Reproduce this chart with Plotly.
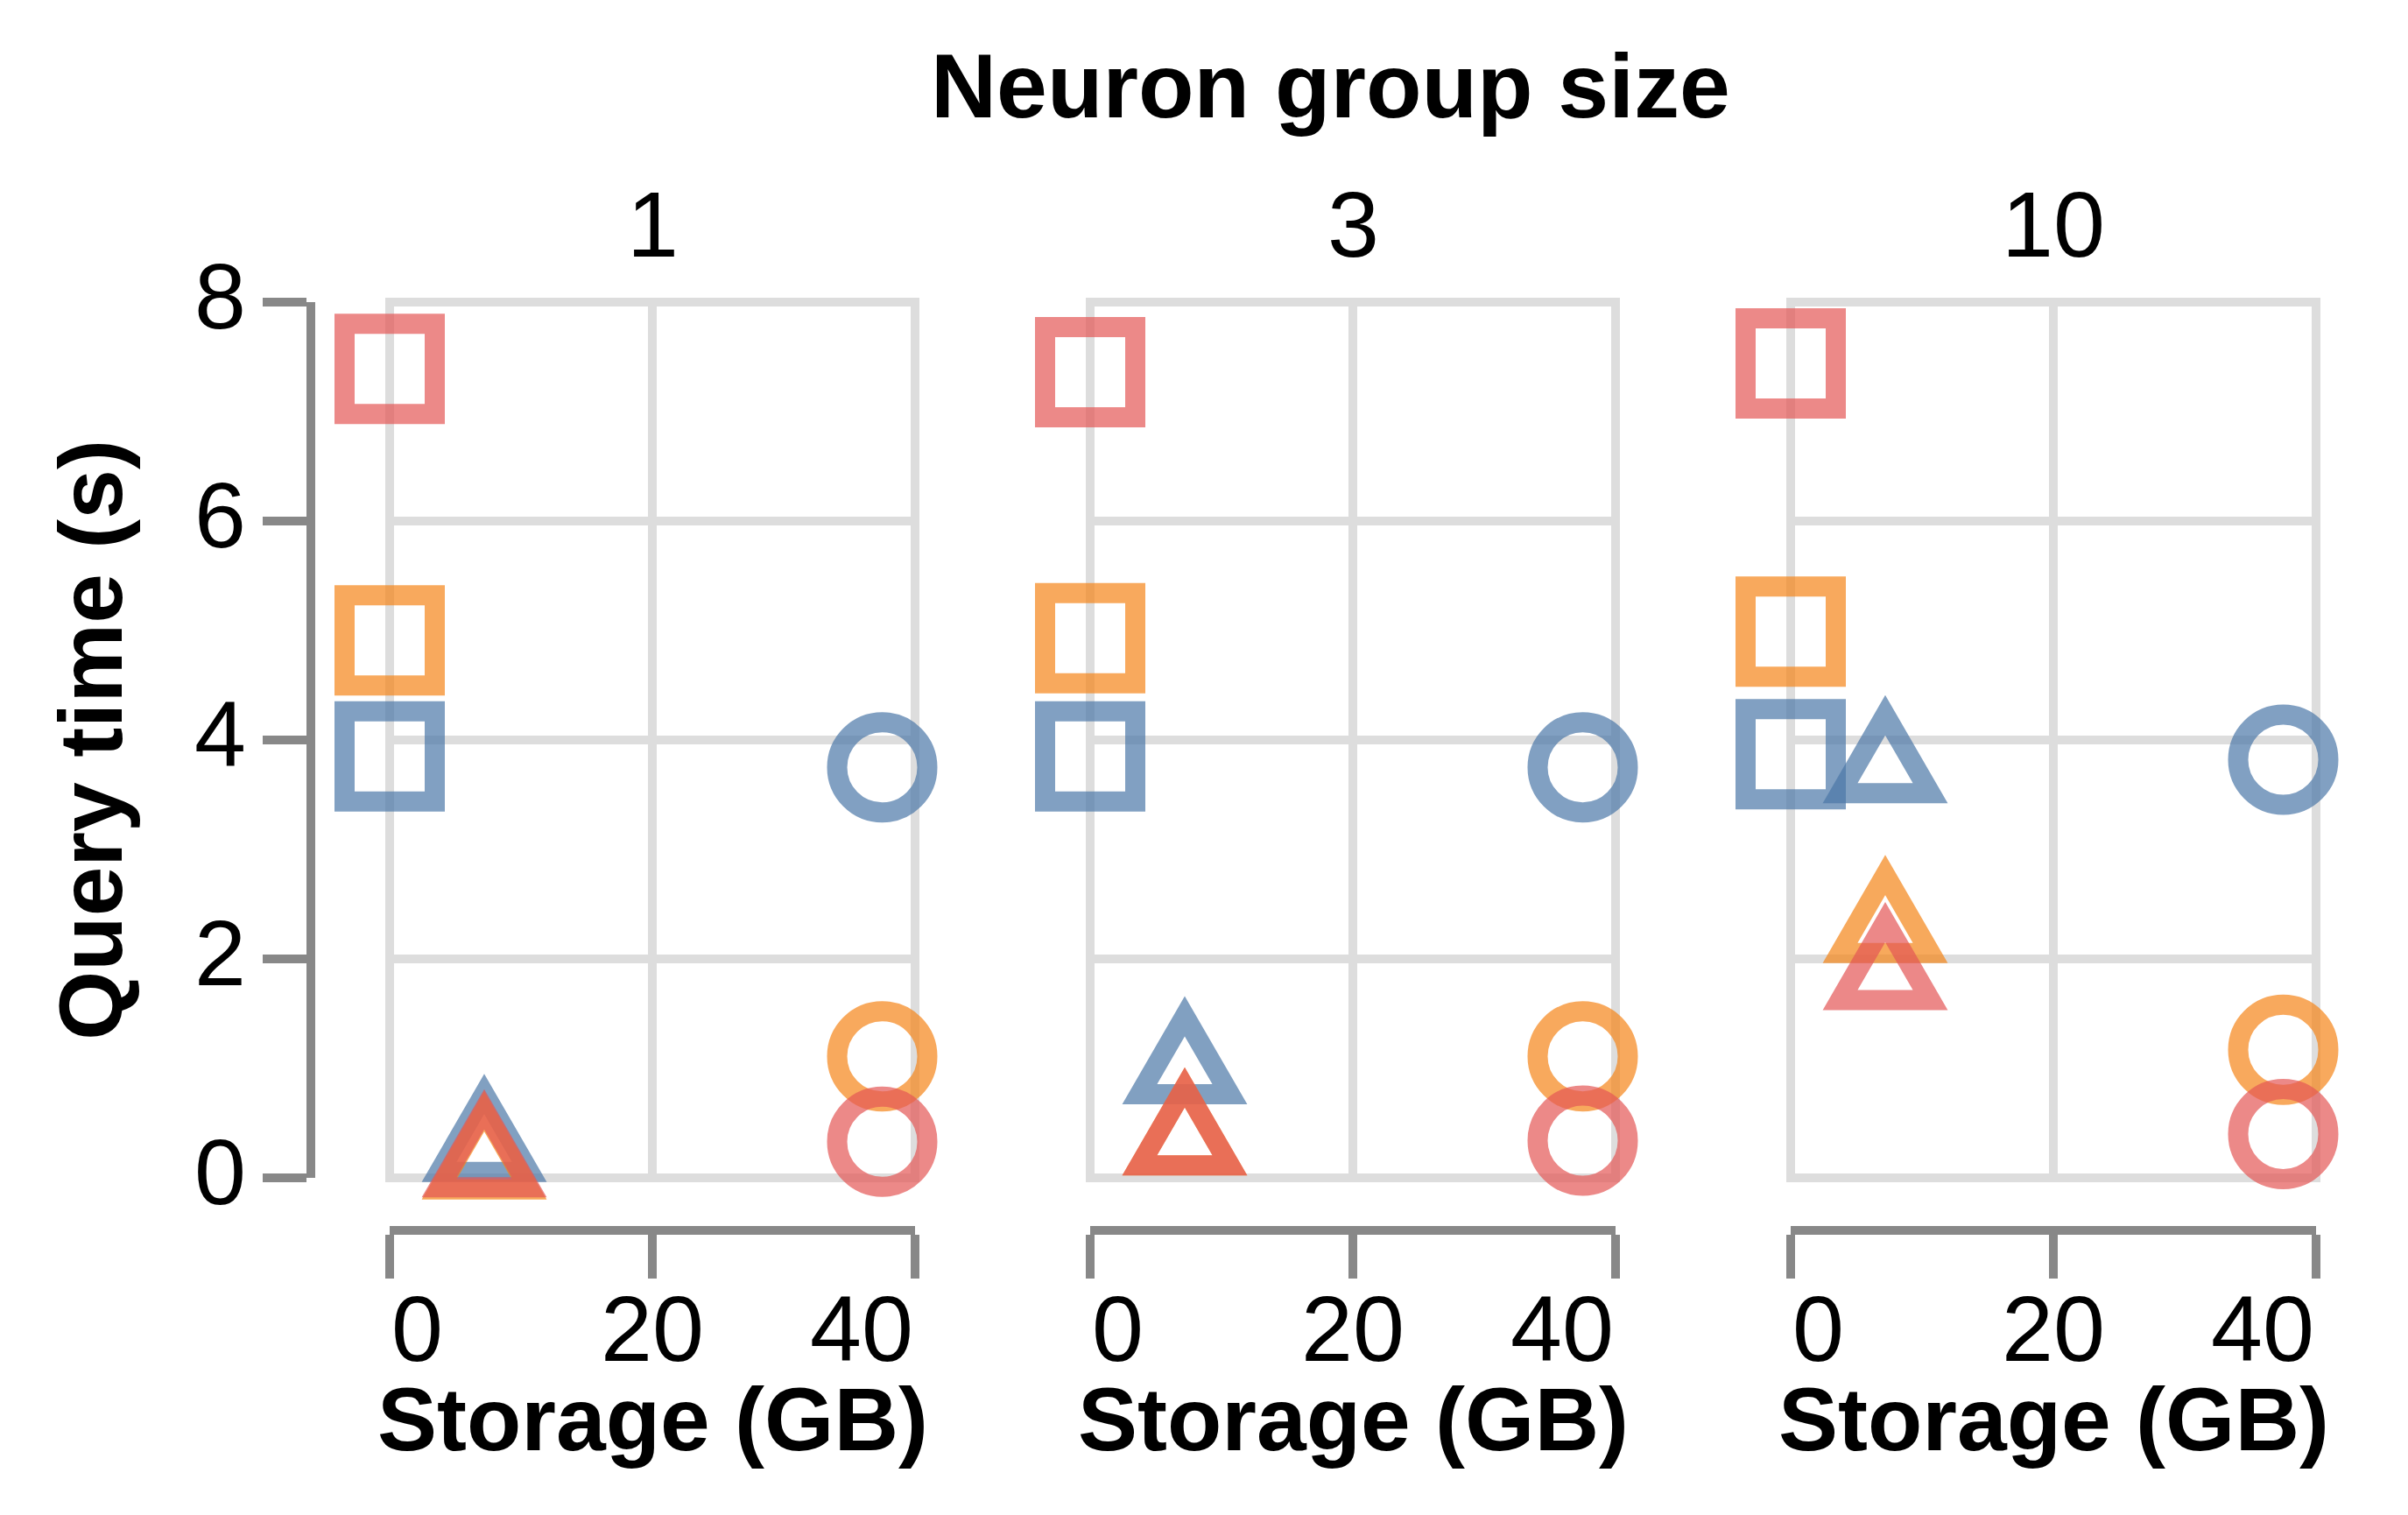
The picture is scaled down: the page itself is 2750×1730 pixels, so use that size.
import math
import plotly.graph_objects as go

# ---------------- data ----------------
group_sizes = ["1", "3", "10"]
x_ticks = [0, 20, 40]
y_ticks = [0, 2, 4, 6, 8]

# storage (GB) per panel (group size 1, 3, 10)
square_storage = [0.0, 0.0, 0.0]
triangle_storage = [7.2, 7.2, 7.2]
circle_storage = [37.5, 37.5, 37.5]

# query time (s) per panel
square_blue = [3.85, 3.85, 3.87]
square_orange = [4.91, 4.93, 4.99]
square_red = [7.39, 7.36, 7.44]
triangle_blue = [0.41, 1.12, 3.87]
triangle_orange = [0.25, 0.47, 2.41]
triangle_red = [0.27, 0.47, 1.98]
circle_blue = [3.75, 3.75, 3.82]
circle_orange = [1.11, 1.11, 1.17]
circle_red = [0.33, 0.34, 0.40]

# ---------------- style ----------------
W, H = 2750, 1730
FONT = "Liberation Sans, Arial, Helvetica, sans-serif"
colors = {"blue": "#4C78A8", "orange": "#F58518", "red": "#E45756"}
series = {
    "blue": (square_blue, triangle_blue, circle_blue),
    "orange": (square_orange, triangle_orange, circle_orange),
    "red": (square_red, triangle_red, circle_red),
}
MARK = 103          # symbol size (px)
STROKE = 23         # symbol stroke width (px)
half = MARK / 2
hh = MARK * math.sqrt(3) / 4
TRI_PATH = f"M0,{hh:.2f} L{-half:.2f},{-hh:.2f} L{half:.2f},{-hh:.2f} Z"
GRID = "#dddddd"
AXIS = "#888888"

panels_px = [(445, 1045), (1245, 1845), (2045, 2645)]
y_top_px, y_bot_px = 345, 1345
y_dom = [(H - y_bot_px) / H, (H - y_top_px) / H]
# helper (invisible) y axes with the same scale but a taller area, so the
# triangles below y = 0 are not clipped
EXT = 80
px_per_unit = (y_bot_px - y_top_px) / 8
y_dom_ext = [(H - y_bot_px - EXT) / H, (H - y_top_px + EXT) / H]
y_rng_ext = [-EXT / px_per_unit, 8 + EXT / px_per_unit]

fig = go.Figure()

for i in range(3):
    xa = "x" if i == 0 else f"x{i+1}"
    ya = "y" if i == 0 else f"y{i+1}"
    for cname in ["blue", "orange", "red"]:
        sq, tri, ci = series[cname]
        fig.add_trace(go.Scatter(
            x=[square_storage[i], circle_storage[i]],
            y=[sq[i], ci[i]],
            mode="markers",
            xaxis=xa, yaxis=ya,
            cliponaxis=False,
            hoverinfo="skip",
            marker=dict(symbol=["square-open", "circle-open"], size=MARK,
                        color=colors[cname], opacity=0.7,
                        line=dict(width=STROKE, color=colors[cname])),
            showlegend=False,
        ))
    # empty trace on helper axes
    fig.add_trace(go.Scatter(x=[], y=[], xaxis=xa, yaxis=f"y{i+4}",
                             mode="markers", showlegend=False, hoverinfo="skip"))

layout = dict(
    width=W, height=H,
    margin=dict(l=0, r=0, t=0, b=0),
    paper_bgcolor="white", plot_bgcolor="rgba(0,0,0,0)",
    showlegend=False,
    font=dict(family=FONT, color="black"),
)

x_axis_pos = (H - 1405) / H
y_axis_pos = 355 / W

for i, (a, b) in enumerate(panels_px):
    xk = "xaxis" if i == 0 else f"xaxis{i+1}"
    yk = "yaxis" if i == 0 else f"yaxis{i+1}"
    layout[xk] = dict(
        domain=[a / W, b / W], range=[0, 40], tickvals=x_ticks,
        showticklabels=False, ticks="outside", ticklen=50, tickwidth=10,
        tickcolor=AXIS, showline=True, linecolor=AXIS, linewidth=10,
        anchor="free", position=x_axis_pos,
        showgrid=False, zeroline=False, fixedrange=True,
    )
    if i == 0:
        layout[yk] = dict(
            domain=y_dom, range=[0, 8], tickvals=y_ticks,
            showticklabels=False, ticks="outside", ticklen=50, tickwidth=10,
            tickcolor=AXIS, showline=True, linecolor=AXIS, linewidth=10,
            anchor="free", position=y_axis_pos,
            showgrid=True, gridcolor=GRID, gridwidth=10, zeroline=False,
            fixedrange=True,
        )
    else:
        layout[yk] = dict(
            domain=y_dom, range=[0, 8], tickvals=y_ticks,
            showticklabels=False, ticks="", showline=False,
            anchor=f"x{i+1}",
            showgrid=True, gridcolor=GRID, gridwidth=10, zeroline=False,
            fixedrange=True,
        )
    layout[f"yaxis{i+4}"] = dict(
        domain=y_dom_ext, range=y_rng_ext, visible=False,
        anchor="x" if i == 0 else f"x{i+1}", fixedrange=True,
        showgrid=False, zeroline=False,
    )

fig.update_layout(**layout)

annotations = []
shapes = []

# main facet title
annotations.append(dict(
    text="<b>Neuron group size</b>", xref="paper", yref="paper",
    x=1519 / W, y=(H - 98) / H, xanchor="center", yanchor="middle",
    showarrow=False, font=dict(size=104, family=FONT, color="black")))

for i in range(3):
    xr = "x" if i == 0 else f"x{i+1}"
    yr = "y" if i == 0 else f"y{i+1}"
    # column header
    annotations.append(dict(
        text=group_sizes[i], xref=f"{xr} domain", yref="paper",
        x=0.5, y=(H - 256) / H, xanchor="center", yanchor="middle",
        showarrow=False, font=dict(size=106, family=FONT, color="black")))
    # x tick labels (first/last flush with the axis ends)
    for v, anc in zip(x_ticks, ["left", "center", "right"]):
        annotations.append(dict(
            text=str(v), xref=xr, yref="paper", x=v, y=(H - 1517) / H,
            xanchor=anc, yanchor="middle", showarrow=False,
            font=dict(size=106, family=FONT, color="black")))
    # x axis title
    annotations.append(dict(
        text="<b>Storage (GB)</b>", xref=f"{xr} domain", yref="paper",
        x=0.5, y=(H - 1621) / H, xanchor="center", yanchor="middle",
        showarrow=False, font=dict(size=102, family=FONT, color="black")))
    # vertical grid lines at the x ticks
    for v in x_ticks:
        shapes.append(dict(
            type="line", xref=xr, yref=f"{yr} domain",
            x0=v, x1=v, y0=0, y1=1, layer="below",
            line=dict(color=GRID, width=10)))
    # panel border
    shapes.append(dict(
        type="rect", xref=f"{xr} domain", yref=f"{yr} domain",
        x0=0, x1=1, y0=0, y1=1, layer="below",
        line=dict(color=GRID, width=10)))
    # triangles (equilateral, drawn at the data point on the helper axis)
    for cname in ["blue", "orange", "red"]:
        tri = series[cname][1]
        shapes.append(dict(
            type="path", xref=xr, yref=f"y{i+4}",
            xsizemode="pixel", ysizemode="pixel",
            xanchor=triangle_storage[i], yanchor=tri[i],
            path=TRI_PATH, layer="above", opacity=0.7,
            fillcolor="rgba(0,0,0,0)",
            line=dict(color=colors[cname], width=STROKE)))

# y tick labels
for v in y_ticks:
    annotations.append(dict(
        text=str(v), xref="paper", yref="y", x=283 / W, y=v,
        xanchor="right", yanchor="middle", yshift=7, showarrow=False,
        font=dict(size=106, family=FONT, color="black")))

# y axis title
annotations.append(dict(
    text="<b>Query time (s)</b>", xref="paper", yref="paper",
    x=104 / W, y=(H - 845) / H, xanchor="center", yanchor="middle",
    textangle=-90, showarrow=False,
    font=dict(size=102, family=FONT, color="black")))

fig.update_layout(annotations=annotations, shapes=shapes)

fig.write_html(
    "out.html",
    config={"displayModeBar": False, "staticPlot": True},
    post_script="document.body.style.margin='0';document.body.style.padding='0';"
                "document.body.style.overflow='hidden';"
                "document.documentElement.style.overflow='hidden';",
)
